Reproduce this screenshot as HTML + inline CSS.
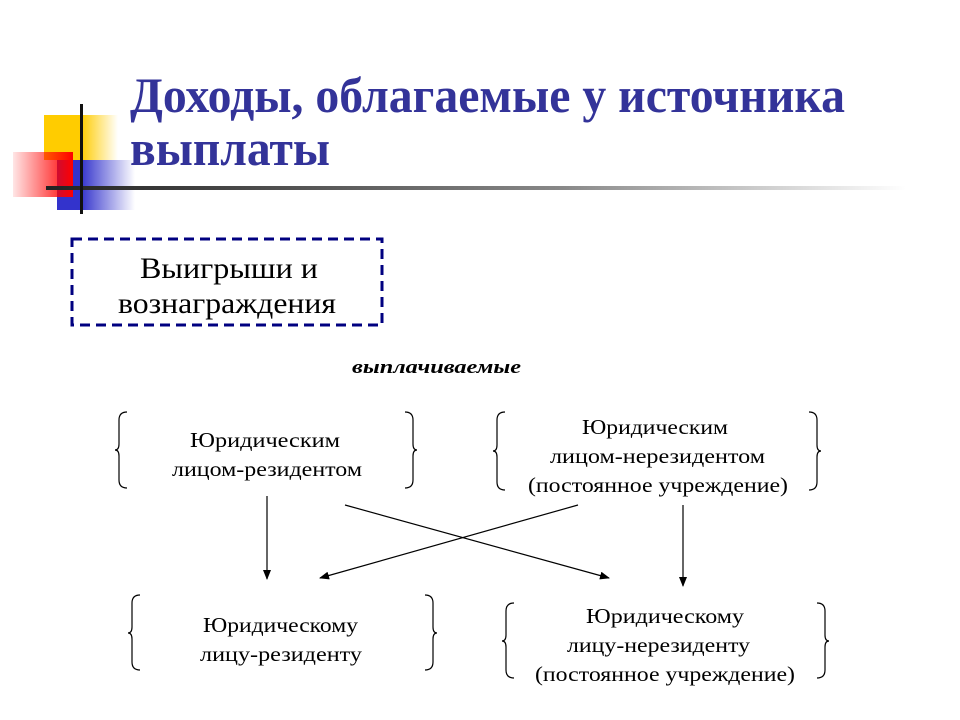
<!DOCTYPE html>
<html><head><meta charset="utf-8"><style>
html,body{margin:0;padding:0;background:#fff;}
svg{display:block;}
</style></head><body>
<svg width="960" height="720" viewBox="0 0 960 720" xmlns="http://www.w3.org/2000/svg">
<defs>
<linearGradient id="yg" x1="0" x2="1"><stop offset="0.5" stop-color="#ffcc00"/><stop offset="1" stop-color="#ffcc00" stop-opacity="0"/></linearGradient>
<linearGradient id="rg" x1="1" x2="0"><stop offset="0" stop-color="#ff0000"/><stop offset="1" stop-color="#ff0000" stop-opacity="0.1"/></linearGradient>
<linearGradient id="bg" x1="0" x2="1"><stop offset="0.3" stop-color="#3333cc"/><stop offset="1" stop-color="#3333cc" stop-opacity="0"/></linearGradient>
<linearGradient id="lg" x1="0" x2="1"><stop offset="0" stop-color="#222"/><stop offset="0.6" stop-color="#888"/><stop offset="1" stop-color="#fff"/></linearGradient>
<marker id="ah" markerWidth="10" markerHeight="8" refX="9" refY="4" orient="auto" markerUnits="userSpaceOnUse"><path d="M0,0 L10,4 L0,8 Z" fill="#000"/></marker>
</defs>
<rect x="44" y="115" width="74" height="45" fill="url(#yg)"/>
<rect x="57" y="160" width="78" height="50" fill="url(#bg)"/>
<rect x="13" y="152" width="60" height="45" fill="url(#rg)"/>
<rect x="46" y="186" width="860" height="4" fill="url(#lg)"/>
<rect x="80" y="104" width="3" height="110" fill="#111"/>
<g font-family="Liberation Serif, serif" fill="#333399" font-weight="bold" font-size="50" lengthAdjust="spacingAndGlyphs">
<text x="130" y="112" textLength="715" lengthAdjust="spacingAndGlyphs">Доходы, облагаемые у источника</text>
<text x="130" y="165" textLength="200" lengthAdjust="spacingAndGlyphs">выплаты</text>
</g>
<rect x="72" y="239" width="310" height="86" fill="none" stroke="#000080" stroke-width="3" stroke-dasharray="10,6"/>
<g font-family="Liberation Serif, serif" font-size="30" fill="#000">
<text x="140" y="278" textLength="178" lengthAdjust="spacingAndGlyphs">Выигрыши и</text>
<text x="118" y="313" textLength="218" lengthAdjust="spacingAndGlyphs">вознаграждения</text>
</g>
<text x="352" y="373" font-family="Liberation Serif, serif" font-weight="bold" font-style="italic" font-size="19" textLength="169" lengthAdjust="spacingAndGlyphs">выплачиваемые</text>
<g fill="none" stroke="#000" stroke-width="1.2">
<path d="M127,412 Q119,412 119,420 L119,444 Q119,450 115,450 Q119,450 119,456 L119,480 Q119,488 127,488"/>
<path d="M405,412 Q413,412 413,420 L413,444 Q413,450 417,450 Q413,450 413,456 L413,480 Q413,488 405,488"/>
<path d="M505,412 Q497,412 497,420 L497,445 Q497,451 493,451 Q497,451 497,457 L497,482 Q497,490 505,490"/>
<path d="M809,412 Q817,412 817,420 L817,445 Q817,451 821,451 Q817,451 817,457 L817,482 Q817,490 809,490"/>
<path d="M140,595 Q132,595 132,603 L132,627 Q132,633 128,633 Q132,633 132,639 L132,662 Q132,670 140,670"/>
<path d="M425,595 Q433,595 433,603 L433,627 Q433,633 437,633 Q433,633 433,639 L433,662 Q433,670 425,670"/>
<path d="M514,603 Q506,603 506,611 L506,635 Q506,641 502,641 Q506,641 506,647 L506,670 Q506,678 514,678"/>
<path d="M817,603 Q825,603 825,611 L825,635 Q825,641 829,641 Q825,641 825,647 L825,670 Q825,678 817,678"/>
<line x1="267" y1="496" x2="267" y2="579" marker-end="url(#ah)"/>
<line x1="345" y1="505" x2="609" y2="578" marker-end="url(#ah)"/>
<line x1="578" y1="505" x2="320" y2="578" marker-end="url(#ah)"/>
<line x1="683" y1="505" x2="683" y2="586" marker-end="url(#ah)"/>
</g>
<g font-family="Liberation Serif, serif" font-size="21" fill="#000">
<text x="190" y="447" textLength="150" lengthAdjust="spacingAndGlyphs">Юридическим</text>
<text x="172" y="476" textLength="190" lengthAdjust="spacingAndGlyphs">лицом-резидентом</text>
<text x="582" y="434" textLength="146" lengthAdjust="spacingAndGlyphs">Юридическим</text>
<text x="550" y="463" textLength="215" lengthAdjust="spacingAndGlyphs">лицом-нерезидентом</text>
<text x="528" y="492" textLength="260" lengthAdjust="spacingAndGlyphs">(постоянное учреждение)</text>
<text x="203" y="632" textLength="155" lengthAdjust="spacingAndGlyphs">Юридическому</text>
<text x="200" y="661" textLength="162" lengthAdjust="spacingAndGlyphs">лицу-резиденту</text>
<text x="586" y="623" textLength="158" lengthAdjust="spacingAndGlyphs">Юридическому</text>
<text x="567" y="652" textLength="183" lengthAdjust="spacingAndGlyphs">лицу-нерезиденту</text>
<text x="535" y="681" textLength="260" lengthAdjust="spacingAndGlyphs">(постоянное учреждение)</text>
</g>
</svg>
</body></html>
